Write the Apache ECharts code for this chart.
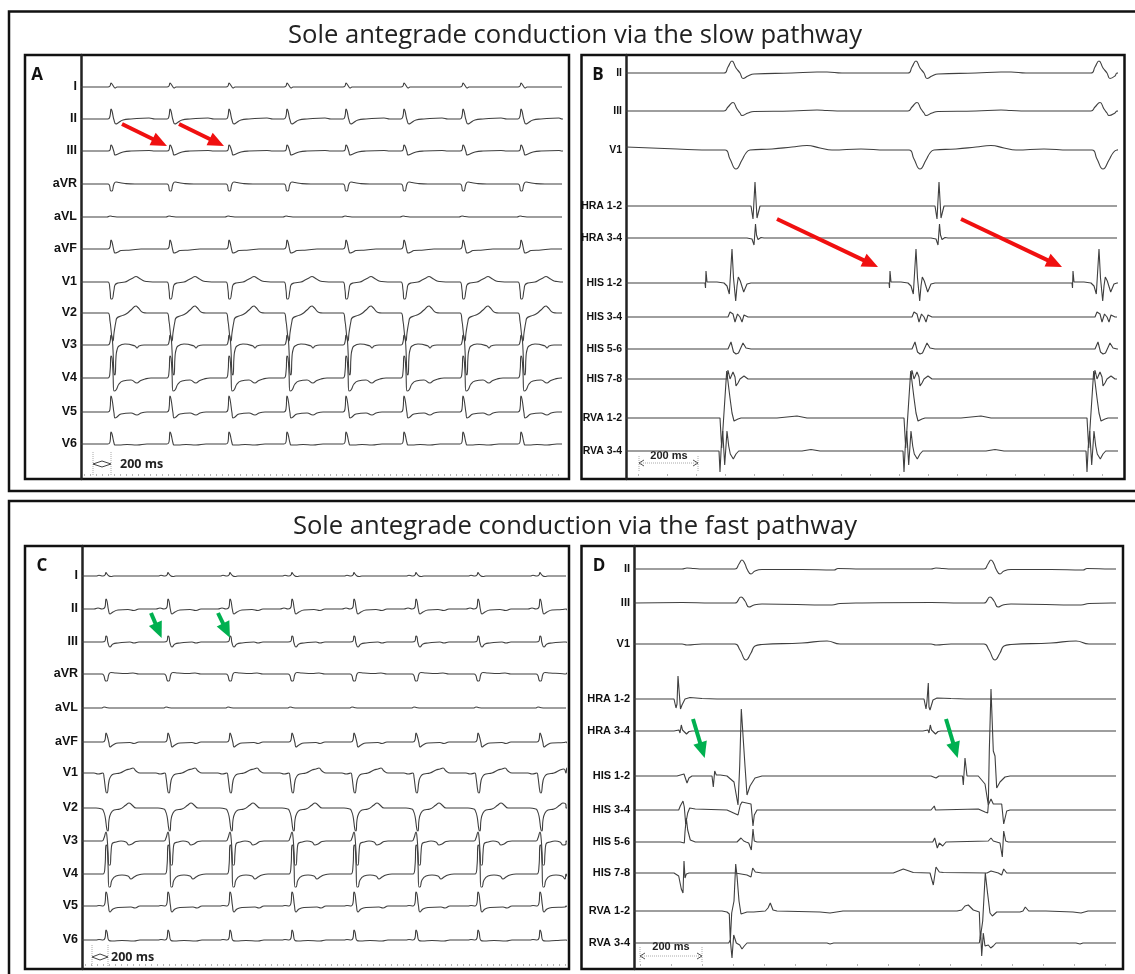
<!DOCTYPE html>
<html><head><meta charset="utf-8">
<style>html,body{margin:0;padding:0;background:#fff}#c{width:1135px;height:974px}</style>
<script src="https://cdn.jsdelivr.net/npm/echarts@6/dist/echarts.min.js"></script>
</head><body><div id="c"></div>
<script>
// ---------- Data: samples on x, deflection on y ----------
const titleTop = 'Sole antegrade conduction via the slow pathway';
const titleBottom = 'Sole antegrade conduction via the fast pathway';

const surfaceLeads = ['I','II','III','aVR','aVL','aVF','V1','V2','V3','V4','V5','V6'];
const epLeads = ['II','III','V1','HRA 1-2','HRA 3-4','HIS 1-2','HIS 3-4','HIS 5-6','HIS 7-8','RVA 1-2','RVA 3-4'];

const rowsA = [32,64,96,129,162,194,227,258,290,323,357,389];
const rowsB = [18,56,95,151,183,228,262,294,324,363,396];
const rowsC = [30,63,96,128,162,196,227,262,295,328,360,394];
const rowsD = [23,57,98,153,185,230,264,296,327,365,397];

const beatsA = [30,89,148,206,265,323,382,440];
const beatsB = [106,290,473];
const atrialB = [129,313];
const beatsC = [24,86,148,210,272,334,396,458];
const beatsD = [108,357];

// Panel A: one beat per lead [sample offset, deflection]
const A_I   = [[-3,0],[-1,1],[0,4],[1,3],[3,0],[4,-1],[6,0]];
const A_II  = [[-3,0],[-1,3],[0,10],[1,8],[3,-1],[5,-5],[7,-4],[12,-1],[20,0],[38,1],[44,0]];
const A_III = [[-3,0],[-1,1],[0,6],[1,5],[3,-1],[4,-4],[7,-3],[12,-1],[20,0],[38,.5],[44,0]];
const A_aVR = [[-3,0],[0,-7],[1,-7],[3,0],[5,2],[8,1.5],[14,.5],[24,0]];
const A_aVL = [[-4,0],[-1,1],[2,.5],[8,0]];
const A_aVF = [[-3,0],[-1,2],[0,9],[1,7],[3,-2],[4,-4],[7,-3],[10,-1.5],[20,-1],[30,0]];
const A_V1  = [[-3,0],[-1,-8],[0,-17],[1,-17],[3,-8],[4,-3],[7,-1],[14,0],[18,2],[22,4],[25,5.5],[28,4],[33,1],[36,.5],[45,0]];
const A_V2  = [[-3,0],[-1,-8],[1,-25],[2,-28],[3,-20],[5,-8],[6,-5],[10,-3],[15,-1],[20,3],[25,7],[27,5.5],[32,.5],[36,0]];
const A_V3  = [[-3,0],[-1,3],[0,10],[1,8],[2,-5],[3,-28],[4,-30],[5,-12],[6,-5],[8,-1],[14,1],[24,-1],[26,-3],[28,-1],[33,0]];
const A_V4  = [[-3,0],[-1,6],[0,22],[1,20],[2,5],[3,-13],[5,-12],[8,-6],[12,-3],[20,-2],[26,-5],[29,-3],[34,-1],[40,0]];
const A_V5  = [[-3,0],[-1,3],[0,16],[1,13],[3,-1],[4,-6],[6,-5],[10,-2],[20,-1],[26,-3],[30,-1],[36,0]];
const A_V6  = [[-3,0],[-1,2],[0,12],[1,10],[3,1],[4,-1],[8,-1],[16,-.5],[26,-1],[36,0]];

// Panel B
const B_II   = [[-8,0],[-4,6],[0,12],[4,5],[8,0],[11,-5.5],[16,-3],[22,-1],[60,0],[85,1],[95,1],[110,0]];
const B_III  = [[-8,0],[-4,4],[1,8.5],[5,2],[8,-2],[10,-4.5],[16,-2],[22,-.5],[60,0],[85,1],[95,.5],[110,0]];
const B_V1   = [[-55,1],[-30,0],[-7,0],[-2,-9],[4,-19],[10,-10],[14,-3],[18,0],[40,1],[60,3],[75,4.5],[88,2],[100,0]];
const B_HRA12 = [[-4,0],[-3,-2],[-2,-13],[-1,-15],[0,24],[1,24],[2,-12],[3,-8],[5,0]];
const B_HRA34 = [[-8,0],[-3,-1],[-1,-7],[.5,14],[1.5,3],[3,-1.5],[6,.5],[9,0]];
const B_HIS12 = [[-27,0],[-26.5,-5],[-26,12],[-25,1],[-24,0],[-15,1],[-8,0],[-5,-3],[-2.7,-11],[0,34],[1.5,5],[3.7,-18],[5,-3],[6.3,6],[8.3,2],[11.7,-9],[15,-1],[19,0],[27,0],[29,-2],[32,0]];
const B_HIS34 = [[-4,0],[-2,5],[1,3],[1.5,4],[3,-5],[5.5,3],[8,0],[10,-5],[12,2],[16,0]];
const B_HIS56 = [[-4,0],[-1,7],[1.5,-3],[4,-5],[6.5,-4],[8,-4],[11,6],[14,1],[19,0]];
const B_HIS78 = [[-5,0],[-4,9],[-3,9],[-2,0],[0,-1],[1,7],[3,2],[4,-7],[6,-4],[8,0],[12,3],[16,0]];
const B_RVA12 = [[-12,0],[-11,-1],[-10.3,-30],[-8.3,-30],[-5.3,47],[-3.3,47],[-2,20],[0,5],[2,-3],[3,-4],[6,-1],[9,0],[45,0],[55,1],[65,2],[75,0]];
const B_RVA34 = [[-13,0],[-12,-21],[-10.7,5],[-9.3,20],[-7.3,-14],[-6,-14],[-5,20],[-3.3,5],[-1.7,-3],[1.3,-8],[4,-3],[6.7,0],[70,0],[79,1.5],[88,0]];

// Panel C
const C_I   = [[-10,0],[-7,.7],[-3,0],[-1,1],[0,3.5],[1,2],[3,0],[5,-.5],[8,0]];
const C_II  = [[-12,0],[-8,1],[-4,0],[-1,2],[0,10],[1,8],[2.5,-1],[4,-5],[7,-3],[12,-1],[22,-.5],[28,-1.5],[33,0],[45,0]];
const C_III = [[-4,0],[-1,1],[0,6],[1,5],[2,-1],[4,-5],[7,-2],[12,-1],[24,0],[28,-1],[33,0]];
const C_aVR = [[-4,0],[0,-7],[1,-7],[3,0],[5,1.5],[10,1],[20,.5],[27,1],[33,0]];
const C_aVL = [[-4,0],[-2,1],[1,.3],[5,0]];
const C_aVF = [[-3,0],[-1,2],[0,9],[1,7],[3,-1],[4,-5],[7,-3],[12,-1],[24,-.5],[28,-1.5],[33,0]];
const C_V1  = [[-12,0],[-8,-1],[-3,0],[-2,-4],[0,-19],[1,-20],[3,-8],[5,-3],[8,-1],[14,0],[20,3],[24,4],[27,5],[30,2],[34,0],[45,0]];
const C_V2  = [[-10,0],[-4,-1],[-3,-2],[-1,-8],[1,-22],[2,-23],[3,-12],[5,-5],[8,-2],[14,-1],[20,3],[23,5],[26,3],[30,0],[38,0]];
const C_V3  = [[-10,0],[-4,0],[-2,3],[0,9],[1,4],[2,-10],[3,-24],[4,-24],[5,-12],[6,-3],[10,-1],[15,0],[20,-1],[23,-4],[26,-3],[30,-.5],[34,0]];
const C_V4  = [[-3,0],[-1,8],[0,29],[1,28],[2,10],[3,-13],[4,-13],[6,-6],[10,-2],[16,-1],[22,-2],[25,-5],[28,-3],[32,-1],[38,0]];
const C_V5  = [[-10,0],[-7,.5],[-3,0],[-1,3],[0,14],[1,12],[2.5,0],[4,-6],[7,-3],[12,-1.5],[25,-1],[29,-2],[34,0]];
const C_V6  = [[-10,0],[-7,.5],[-3,0],[-1,2],[0,10],[1,8],[3,-.5],[6,-1],[16,-.5],[28,-1],[34,0]];

// Panel D: first and second cycle per lead where they differ
const D_II  = [[-60,0],[-55,1],[-48,.5],[-40,0],[-7,0],[-3,5],[0,9],[3,5],[5,0],[9,-5],[13,-2],[20,-.5],[60,-.5],[92,-1],[96,.5],[120,0]];
const D_III = [[-60,.5],[-30,0],[-7,0],[-1,6],[3,2],[7,-4],[12,-2],[20,-1],[90,-2],[98,-.5],[120,0]];
const D_V1  = [[-60,0],[-55,-1],[-40,0],[-7,0],[-2,-6],[4,-16],[9,-9],[13,-2],[20,-.5],[60,1],[85,3],[98,0],[120,0]];
const D_HRA12a = [[-68,0],[-66,-9],[-65,-5],[-64,23],[-63.3,23],[-62,-4],[-61.5,-10],[-60,-6],[-57,0],[-52,1.5],[-40,.5],[-25,0]];
const D_HRA12b = [[-67,0],[-65,-10],[-64,-2],[-62.7,16],[-62,-8],[-61,-11],[-58,-1],[-54,1],[-40,.5],[-25,0]];
const D_HRA34 = [[-68,0],[-63,1],[-62,-2],[-60.7,6],[-59.5,1],[-58,-1],[-55.5,-3],[-53,-.5],[-50,0]];
const D_HIS12a = [[-65,0],[-58,2],[-55,-7],[-53,-2],[-50,0],[-30,0],[-28.7,-11],[-27.3,5],[-25.7,1],[-21.7,1],[-15,0],[-8,-6],[-4,-29],[-2.3,10],[-.7,67],[1.7,30],[3,10],[5,-19],[8,-10],[13,-2],[20,0]];
const D_HIS12b = [[-60,0],[-55,-2],[-52,0],[-28.5,0],[-27.7,-9],[-26,18],[-24,0],[-12.7,0],[-6,-8],[-2.7,-29],[-1.7,25],[0,87],[2.3,25],[4,20],[5.7,-12],[9,-6],[14,-1],[19,0]];
const D_HIS34a = [[-63.3,0],[-61.7,4],[-59,9],[-57.7,3],[-56.3,-14],[-54.3,-3],[-52.3,2],[-46.7,1],[-15,0],[-4,-5],[-1.7,5],[0,8],[1.7,7],[9,6],[11,-16],[12.3,-5],[15,0]];
const D_HIS34b = [[-60,0],[-56.7,4],[-55.5,0],[-12.7,1],[-6,-2],[-3.3,-3],[-2.7,5],[0,11],[2.3,6],[10.7,6],[12.7,-14],[15.7,-1],[19,0]];
const D_HIS56a = [[-61.7,0],[-57.7,-1],[-57,10],[-55.7,24],[-54.3,12],[-51.7,2],[-46.7,0],[-5,0],[-1,4],[1.7,1],[4,0],[6.7,-1],[9.3,-8],[11,13],[12.3,1],[15,0]];
const D_HIS56b = [[-58.3,0],[-56.3,4],[-53.7,-6],[-51.7,-1],[-48.3,-4],[-45,0],[-2.7,1],[0,4],[2.3,1],[9,-1],[11.3,-15],[12.7,11],[14.7,1],[17.3,0]];
const D_HIS78a = [[-68,0],[-63.3,-3],[-60.7,-16],[-59,-20],[-58,12],[-57,-5],[-55.7,-1],[-53,0],[-6.7,0],[5,-2],[9,-4],[10.7,5],[13.3,1],[20,0]];
const D_HIS78b = [[-97.7,0],[-87.7,4],[-77.7,.5],[-61,0],[-57.7,-12],[-55,6],[-51.7,1],[-47.7,.5],[-4,0],[0,2],[7.3,0],[10.7,-2],[12.7,4],[15.7,0]];
const D_RVA12a = [[-20,0],[-15,-1],[-12.7,-3],[-11.7,-30],[-10.3,-2],[-8,10],[-6.3,47],[-5,35],[-3,10],[-1,-3],[1,-4],[5,-1],[11.7,-1],[23.3,0],[26,3],[28.3,8],[31,1],[35,0],[78,-1],[88,-2],[101,0]];
const D_RVA12b = [[-34,0],[-29.3,1],[-26,5],[-22.7,6],[-17.7,1],[-11.7,-1],[-10.7,-27],[-8.3,-10],[-5.7,38],[-3.7,20],[-1,-2],[1.3,-5],[5.7,-1],[15.7,-1],[29,-1],[32,0],[34.3,4],[37.7,0],[55,0],[82,-1],[90,-2],[97,0]];
const D_RVA34a = [[-13.3,0],[-11.7,3],[-10,-15],[-8.3,8],[-7.3,8],[-5.7,0],[-2.3,-2],[0,-6],[2.3,-3],[5,0],[85,0],[88,-1],[91.7,0]];
const D_RVA34b = [[-11.7,0],[-10.3,10],[-9.3,-13],[-7.7,10],[-6,-3],[-2.7,-2],[-.3,-5],[2.3,-3],[5,0],[85,0],[89,-1],[92,0]];

// Annotation arrows, as [x0,y0,x1,y1] in each panel's sample/row units
const arrowsA = [[41,69,78.8,87.5],[98,69,135.8,87.5]];
const arrowsB = [[151,164,244.8,208.6],[335,164,428.8,208.6]];
const arrowsC = [[69,67,76.5,84.6],[136,67,144.5,84.6]];
const arrowsD = [[59,173,68.4,204.3],[312,173,321.4,204.3]];

// ---------- Chart assembly ----------
function trace(beats, shape, row, lastX, startAmp) {
  const pts = [[0, startAmp || 0]];
  beats.forEach((b, i) => {
    const t = Array.isArray(shape[0][0]) ? shape[i] : shape;
    t.forEach(p => { if (b + p[0] > 0) pts.push([b + p[0], p[1]]); });
  });
  pts.push([lastX + 1, 0]);
  pts.sort((a, b) => a[0] - b[0]);
  return pts.map(p => [p[0], row - p[1]]);
}
const ink = '#3f3f3f';
const labelFont = '"Liberation Sans", Arial, sans-serif';
const grids = [], xAxes = [], yAxes = [], series = [];
function panel(def) {
  const i = grids.length;
  grids.push({left: def.left, top: def.top, width: def.width, height: def.height, containLabel: false});
  xAxes.push({type: 'value', gridIndex: i, min: 0, max: def.width, position: 'bottom', offset: -3,
    splitLine: {show: false}, axisLine: {show: false, onZero: false}, axisLabel: {show: false},
    axisTick: {show: true, inside: true, length: 2, lineStyle: {color: '#b5b5b5', width: 1}, customValues: def.ticks}});
  yAxes.push({type: 'value', gridIndex: i, inverse: true, min: 0, max: def.height,
    splitLine: {show: false}, axisTick: {show: false},
    axisLine: {show: true, onZero: false, lineStyle: {color: '#222', width: 2.5}},
    axisLabel: {show: true, customValues: def.rows, margin: def.margin, hideOverlap: false,
      color: '#111', fontWeight: 'bold', fontSize: def.fontSize, fontFamily: labelFont,
      formatter: v => def.names[def.rows.indexOf(v)]}});
  def.names.forEach((n, k) => {
    const soft = k < def.softCount;
    series.push({type: 'line', name: n, xAxisIndex: i, yAxisIndex: i, symbol: 'none', silent: true,
      animation: false, smooth: soft ? 0.5 : false, lineStyle: {color: ink, width: 1.1},
      data: trace(def.channels[k][0], def.channels[k][1], def.rows[k], def.width, def.channels[k][2])});
  });
  // arrows + calipers
  const marks = def.arrows.map(a => [{coord: [a[0], a[1]], symbol: 'none'},
    {coord: [a[2], a[3]], symbol: 'triangle', symbolSize: [14, 16]}]);
  series.push({type: 'line', name: def.id + ' arrows', xAxisIndex: i, yAxisIndex: i, data: [], symbol: 'none', silent: true,
    animation: false,
    markLine: {silent: true, animation: false, label: {show: false}, symbol: ['none', 'triangle'],
      lineStyle: {color: def.arrowColor, width: 4, type: 'solid', opacity: 1}, emphasis: {disabled: true}, data: marks}});
  def.caliper.forEach(c => {
    series.push({type: 'line', name: def.id + ' scale', xAxisIndex: i, yAxisIndex: i, symbol: 'none', silent: true,
      animation: false, lineStyle: {color: c.color, width: 1, type: c.type}, data: c.data});
  });
}
function every(start, step, end) { const o = []; for (let v = start; v <= end; v += step) o.push(v); return o; }

panel({id:'A', left:81, top:55, width:480, height:424, rows:rowsA, names:surfaceLeads, fontSize:12.5, margin:4, softCount:12,
  ticks: every(3,6,480), arrowColor:'#f01010', arrows:arrowsA,
  channels:[A_I,A_II,A_III,A_aVR,A_aVL,A_aVF,A_V1,A_V2,A_V3,A_V4,A_V5,A_V6].map(s=>[beatsA,s]),
  caliper:[
    {color:'#aaa',type:'dotted',data:[[12,397],[12,421]]},
    {color:'#aaa',type:'dotted',data:[[30,397],[30,421]]},
    {color:'#444',type:'solid',data:[[12,409],[21,406],[30,409],[21,412],[12,409]]}]});
panel({id:'B', left:626, top:55, width:490, height:424, rows:rowsB, names:epLeads, fontSize:10.5, margin:4, softCount:3,
  ticks: every(12,29,490), arrowColor:'#f01010', arrows:arrowsB,
  channels:[[beatsB,B_II],[beatsB,B_III],[beatsB,B_V1,3],[atrialB,B_HRA12],[atrialB,B_HRA34],[beatsB,B_HIS12],[beatsB,B_HIS34],[beatsB,B_HIS56],[beatsB,B_HIS78],[beatsB,B_RVA12],[beatsB,B_RVA34]],
  caliper:[
    {color:'#aaa',type:'dotted',data:[[13,401],[13,417]]},
    {color:'#aaa',type:'dotted',data:[[72,401],[72,417]]},
    {color:'#aaa',type:'dotted',data:[[13,408],[72,408]]},
    {color:'#555',type:'solid',data:[[18,405],[13,408],[18,411]]},
    {color:'#555',type:'solid',data:[[67,405],[72,408],[67,411]]}]});
panel({id:'C', left:82, top:546, width:483, height:423, rows:rowsC, names:surfaceLeads, fontSize:12.5, margin:4, softCount:12,
  ticks: every(3,6,483), arrowColor:'#00b050', arrows:arrowsC,
  channels:[C_I,C_II,C_III,C_aVR,C_aVL,C_aVF,C_V1,C_V2,C_V3,C_V4,C_V5,C_V6].map(s=>[beatsC,s]),
  caliper:[
    {color:'#aaa',type:'dotted',data:[[10,399],[10,420]]},
    {color:'#aaa',type:'dotted',data:[[26,399],[26,420]]},
    {color:'#444',type:'solid',data:[[10,411],[18,408],[26,411],[18,414],[10,411]]}]});
panel({id:'D', left:634, top:546, width:481, height:423, rows:rowsD, names:epLeads, fontSize:11, margin:4, softCount:3,
  ticks: every(6,31,481), arrowColor:'#00b050', arrows:arrowsD,
  channels:[[beatsD,D_II],[beatsD,D_III],[beatsD,D_V1],[beatsD,[D_HRA12a,D_HRA12b]],[beatsD,D_HRA34],[beatsD,[D_HIS12a,D_HIS12b]],[beatsD,[D_HIS34a,D_HIS34b]],[beatsD,[D_HIS56a,D_HIS56b]],[beatsD,[D_HIS78a,D_HIS78b]],[beatsD,[D_RVA12a,D_RVA12b]],[beatsD,[D_RVA34a,D_RVA34b]]],
  caliper:[
    {color:'#aaa',type:'dotted',data:[[6,401],[6,416]]},
    {color:'#aaa',type:'dotted',data:[[68,401],[68,416]]},
    {color:'#aaa',type:'dotted',data:[[6,410],[68,410]]},
    {color:'#555',type:'solid',data:[[11,407],[6,410],[11,413]]},
    {color:'#555',type:'solid',data:[[63,407],[68,410],[63,413]]}]});

const sans = '"Open Sans", sans-serif';
const box = (x,y,w,h,lw) => ({type:'rect', silent:true, shape:{x,y,width:w,height:h}, style:{fill:'none',stroke:'#111',lineWidth:lw}});
const txt = (x,y,t,size,weight,align,color) => ({type:'text', silent:true, x, y, style:{text:t, font:`${weight} ${size}px ${sans}`, fill:color||'#111', textAlign:align, textVerticalAlign:'middle'}});
const graphic = [
  box(9,11.5,1140,479.5,2.5), box(9,501,1140,520,2.5),
  box(25,55,544,424,2.5), box(581.5,55,543,424,2.5), box(25,546,544,423,2.5), box(581.5,546,541.5,423,2.5),
  txt(575,36,titleTop,25.6,'normal','center','#222'), txt(575,527,titleBottom,25.6,'normal','center','#222'),
  txt(37,75,'A',17,'bold','center'), txt(598,75,'B',17,'bold','center'),
  txt(42,566,'C',17,'bold','center'), txt(599,566,'D',17,'bold','center'),
  txt(120,464,'200 ms',12.5,'bold','left','#222'), txt(111,957,'200 ms',12.5,'bold','left','#222'),
  {type:'text',silent:true,x:669,y:456,style:{text:'200 ms',font:`bold 11px ${labelFont}`,fill:'#222',textAlign:'center',textVerticalAlign:'middle',backgroundColor:'#fff'}},
  {type:'text',silent:true,x:671,y:947,style:{text:'200 ms',font:`bold 11px ${labelFont}`,fill:'#222',textAlign:'center',textVerticalAlign:'middle',backgroundColor:'#fff'}}
];
const chart = echarts.init(document.getElementById('c'), null, {renderer:'canvas'});
chart.setOption({animation:false, backgroundColor:'#fff', grid:grids, xAxis:xAxes, yAxis:yAxes, series, graphic});
</script></body></html>
